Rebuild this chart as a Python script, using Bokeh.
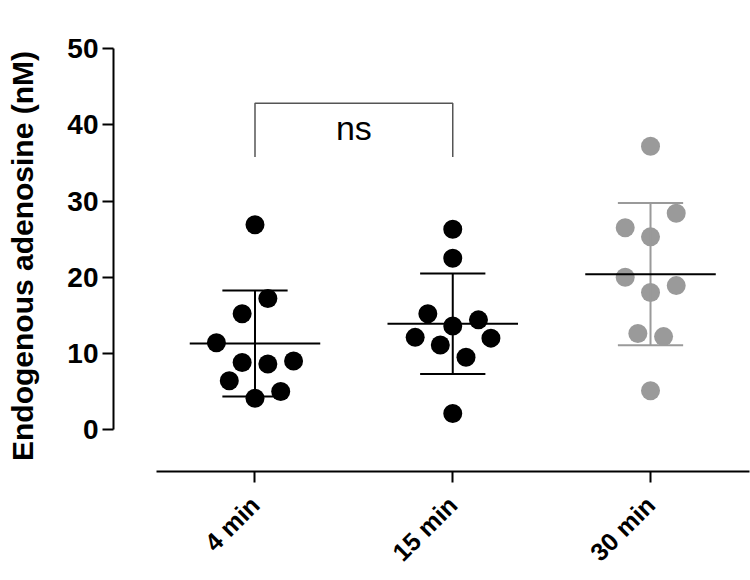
import math
from bokeh.plotting import figure
from bokeh.models import Range1d, FixedTicker, Label
from bokeh.embed import file_html
from bokeh.resources import INLINE

# ---- data ----
groups = ["4 min", "15 min", "30 min"]
vals_4 = [26.9, 17.2, 15.2, 11.4, 8.8, 8.6, 9.0, 6.4, 5.0, 4.1]
vals_15 = [26.3, 22.5, 15.2, 14.4, 13.6, 12.1, 12.0, 11.1, 9.5, 2.1]
vals_30 = [37.2, 28.4, 26.5, 25.3, 20.0, 18.9, 18.0, 12.6, 12.2, 5.1]
means = [11.3, 13.9, 20.4]
sds = [6.95, 6.6, 9.35]
sig_label = "ns"
sig_pair = [1, 2]
sig_low = 35.8
sig_high = 42.85

# jitter offsets (layout, in category units)
jit_4 = [0, 0.065, -0.065, -0.195, -0.065, 0.065, 0.195, -0.13, 0.13, 0]
jit_15 = [0, 0, -0.126, 0.13, 0, -0.19, 0.193, -0.063, 0.067, 0]
jit_30 = [0, 0.13, -0.128, 0, -0.128, 0.13, 0, -0.064, 0.066, 0]

FONT = "Liberation Sans"
GREY = "#9a9a9a"

Y0, Y1 = -5.516, 51.09

p = figure(width=750, height=580, output_backend="svg", toolbar_location=None,
           x_range=Range1d(0.2845, 3.5056), y_range=Range1d(Y0, Y1),
           min_border_left=113, min_border_right=0, min_border_top=40,
           min_border_bottom=109)
p.outline_line_color = None
p.xgrid.visible = False
p.ygrid.visible = False
p.background_fill_color = "white"
p.border_fill_color = "white"

# points
p.scatter([1 + j for j in jit_4], vals_4, size=19, color="black", line_color=None)
p.scatter([2 + j for j in jit_15], vals_15, size=19, color="black", line_color=None)
p.scatter([3 + j for j in jit_30], vals_30, size=19, color=GREY, line_color=None)

# error bars
pos = [1, 2, 3]
colors = ["black", "black", GREY]
for x, m, s, c in zip(pos, means, sds, colors):
    p.segment(x0=[x], y0=[m - s], x1=[x], y1=[m + s], line_color=c, line_width=2)
    p.segment(x0=[x - 0.165, x - 0.165], y0=[m - s, m + s],
              x1=[x + 0.165, x + 0.165], y1=[m - s, m + s], line_color=c, line_width=2)
    p.segment(x0=[x - 0.33], y0=[m], x1=[x + 0.33], y1=[m], line_color="black", line_width=2)

# significance bracket
p.line([sig_pair[0], sig_pair[0], sig_pair[1], sig_pair[1]],
       [sig_low, sig_high, sig_high, sig_low], line_color="#555555", line_width=1.5)
p.add_layout(Label(x=(sig_pair[0] + sig_pair[1]) / 2, y=(sig_low + sig_high) / 2 + 0.3,
                   text=sig_label, text_align="center", text_baseline="middle",
                   text_font=FONT, text_font_size="34px", text_color="black"))

# axes
ya = p.yaxis[0]
ya.bounds = (0, 50)
ya.ticker = FixedTicker(ticks=[0, 10, 20, 30, 40, 50])
ya.minor_tick_line_color = None
ya.major_tick_in = 0
ya.major_tick_out = 11
ya.axis_line_width = 2
ya.major_tick_line_width = 2
ya.major_label_text_font = FONT
ya.major_label_text_font_style = "bold"
ya.major_label_text_font_size = "28px"
ya.major_label_text_color = "black"
ya.major_label_standoff = 4
ya.axis_label = "Endogenous adenosine (nM)"
ya.axis_label_text_font = FONT
ya.axis_label_text_font_style = "bold"
ya.axis_label_text_font_size = "30px"
ya.axis_label_text_color = "black"
ya.axis_label_standoff = 25

xa = p.xaxis[0]
xa.bounds = (0.5, 3.5)
xa.ticker = FixedTicker(ticks=pos)
xa.major_label_overrides = {i + 1: g for i, g in enumerate(groups)}
xa.minor_tick_line_color = None
xa.major_tick_in = 0
xa.major_tick_out = 11
xa.axis_line_width = 2
xa.major_tick_line_width = 2
xa.major_label_orientation = math.pi / 4
xa.major_label_text_font = FONT
xa.major_label_text_font_style = "bold"
xa.major_label_text_font_size = "25px"
xa.major_label_text_color = "black"
xa.major_label_standoff = 18

open("out.html", "w").write(file_html(p, INLINE))
